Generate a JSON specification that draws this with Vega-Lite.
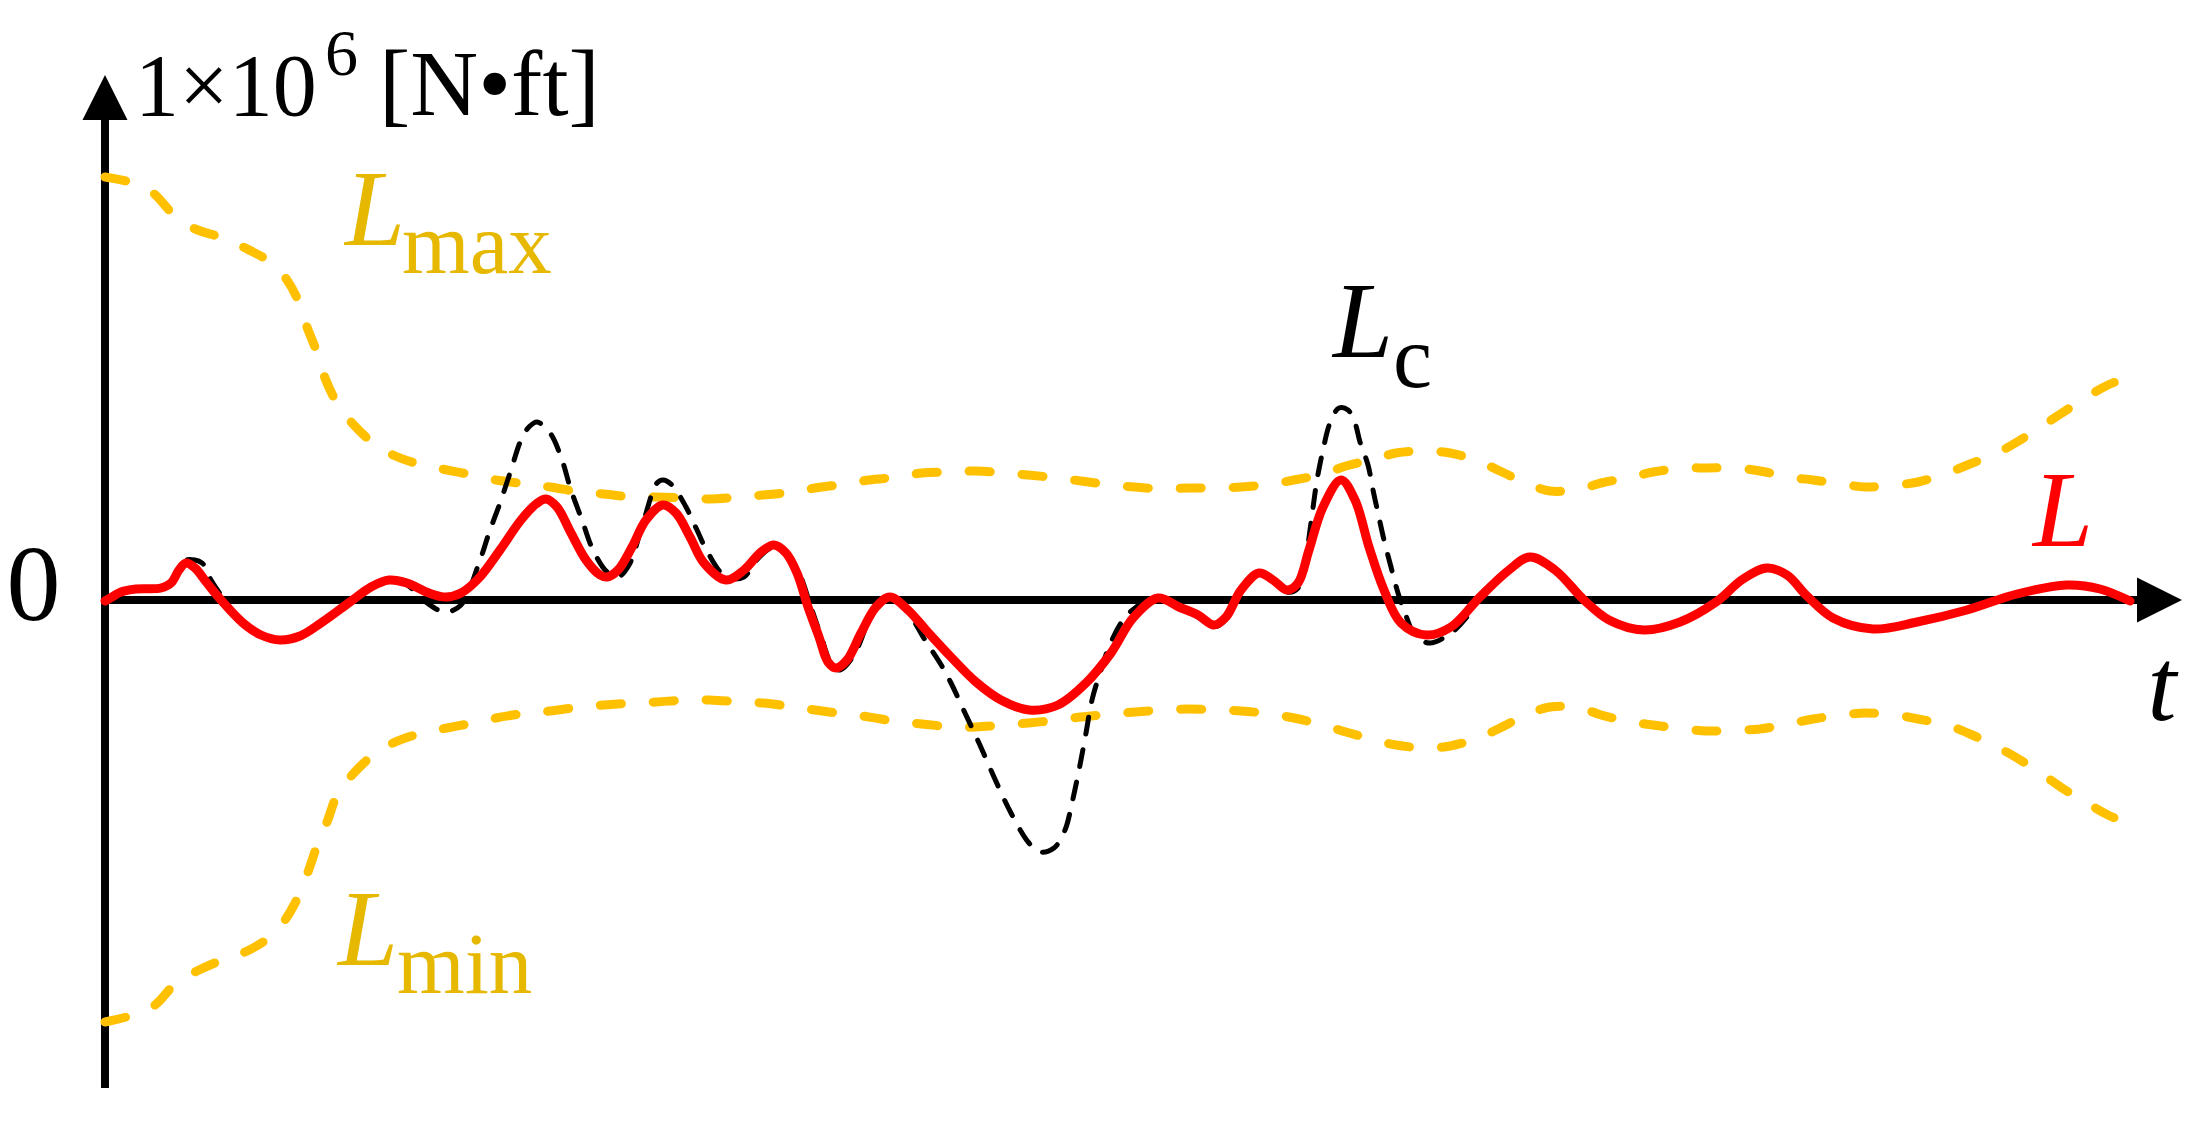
{
  "$schema": "https://vega.github.io/schema/vega-lite/v6.json",
  "width": 2202,
  "height": 1132,
  "autosize": {"type": "fit", "contains": "padding"},
  "padding": 0,
  "background": "white",
  "config": {"view": {"stroke": null}},
  "datasets": {
    "curves": [
      {"s":"Lmax","t":0,"v":4.23},{"s":"Lmax","t":0.28,"v":4.17},{"s":"Lmax","t":0.48,"v":4.07},{"s":"Lmax","t":0.68,"v":3.86},{"s":"Lmax","t":0.88,"v":3.72},{"s":"Lmax","t":1.18,"v":3.62},{"s":"Lmax","t":1.38,"v":3.53},{"s":"Lmax","t":1.65,"v":3.38},{"s":"Lmax","t":1.82,"v":3.2},{"s":"Lmax","t":1.95,"v":2.95},{"s":"Lmax","t":2.02,"v":2.73},{"s":"Lmax","t":2.13,"v":2.45},{"s":"Lmax","t":2.2,"v":2.22},{"s":"Lmax","t":2.33,"v":1.95},{"s":"Lmax","t":2.47,"v":1.77},{"s":"Lmax","t":2.68,"v":1.57},{"s":"Lmax","t":2.88,"v":1.45},{"s":"Lmax","t":3.17,"v":1.35},{"s":"Lmax","t":3.42,"v":1.3},{"s":"Lmax","t":3.68,"v":1.25},{"s":"Lmax","t":3.91,"v":1.2},{"s":"Lmax","t":4.22,"v":1.16},{"s":"Lmax","t":4.45,"v":1.13},{"s":"Lmax","t":4.75,"v":1.08},{"s":"Lmax","t":4.99,"v":1.06},{"s":"Lmax","t":5.27,"v":1.03},{"s":"Lmax","t":5.51,"v":1.03},{"s":"Lmax","t":5.81,"v":1.02},{"s":"Lmax","t":6.05,"v":1.01},{"s":"Lmax","t":6.35,"v":1.03},{"s":"Lmax","t":6.58,"v":1.05},{"s":"Lmax","t":6.89,"v":1.08},{"s":"Lmax","t":7.1,"v":1.12},{"s":"Lmax","t":7.4,"v":1.16},{"s":"Lmax","t":7.64,"v":1.2},{"s":"Lmax","t":7.94,"v":1.23},{"s":"Lmax","t":8.17,"v":1.27},{"s":"Lmax","t":8.48,"v":1.28},{"s":"Lmax","t":8.71,"v":1.29},{"s":"Lmax","t":8.99,"v":1.27},{"s":"Lmax","t":9.23,"v":1.25},{"s":"Lmax","t":9.53,"v":1.22},{"s":"Lmax","t":9.76,"v":1.19},{"s":"Lmax","t":10.06,"v":1.15},{"s":"Lmax","t":10.3,"v":1.13},{"s":"Lmax","t":10.58,"v":1.11},{"s":"Lmax","t":10.83,"v":1.12},{"s":"Lmax","t":11.13,"v":1.12},{"s":"Lmax","t":11.36,"v":1.13},{"s":"Lmax","t":11.66,"v":1.16},{"s":"Lmax","t":11.89,"v":1.2},{"s":"Lmax","t":12.18,"v":1.26},{"s":"Lmax","t":12.41,"v":1.34},{"s":"Lmax","t":12.7,"v":1.41},{"s":"Lmax","t":12.91,"v":1.47},{"s":"Lmax","t":13.21,"v":1.49},{"s":"Lmax","t":13.45,"v":1.47},{"s":"Lmax","t":13.73,"v":1.39},{"s":"Lmax","t":13.95,"v":1.29},{"s":"Lmax","t":14.21,"v":1.17},{"s":"Lmax","t":14.45,"v":1.09},{"s":"Lmax","t":14.75,"v":1.11},{"s":"Lmax","t":14.96,"v":1.17},{"s":"Lmax","t":15.27,"v":1.23},{"s":"Lmax","t":15.48,"v":1.28},{"s":"Lmax","t":15.79,"v":1.32},{"s":"Lmax","t":16.02,"v":1.32},{"s":"Lmax","t":16.32,"v":1.32},{"s":"Lmax","t":16.55,"v":1.29},{"s":"Lmax","t":16.83,"v":1.23},{"s":"Lmax","t":17.08,"v":1.2},{"s":"Lmax","t":17.37,"v":1.16},{"s":"Lmax","t":17.6,"v":1.13},{"s":"Lmax","t":17.9,"v":1.15},{"s":"Lmax","t":18.13,"v":1.18},{"s":"Lmax","t":18.42,"v":1.27},{"s":"Lmax","t":18.65,"v":1.36},{"s":"Lmax","t":18.92,"v":1.47},{"s":"Lmax","t":19.12,"v":1.58},{"s":"Lmax","t":19.37,"v":1.74},{"s":"Lmax","t":19.57,"v":1.87},{"s":"Lmax","t":19.82,"v":2.03},{"s":"Lmax","t":20.03,"v":2.15},{"s":"Lmax","t":20.3,"v":2.25},

      {"s":"Lmin","t":0,"v":-4.22},{"s":"Lmin","t":0.28,"v":-4.15},{"s":"Lmin","t":0.5,"v":-4.05},{"s":"Lmin","t":0.7,"v":-3.84},{"s":"Lmin","t":0.9,"v":-3.72},{"s":"Lmin","t":1.17,"v":-3.6},{"s":"Lmin","t":1.4,"v":-3.52},{"s":"Lmin","t":1.65,"v":-3.37},{"s":"Lmin","t":1.8,"v":-3.2},{"s":"Lmin","t":1.95,"v":-2.93},{"s":"Lmin","t":2.03,"v":-2.72},{"s":"Lmin","t":2.13,"v":-2.43},{"s":"Lmin","t":2.22,"v":-2.22},{"s":"Lmin","t":2.33,"v":-1.93},{"s":"Lmin","t":2.47,"v":-1.75},{"s":"Lmin","t":2.68,"v":-1.55},{"s":"Lmin","t":2.88,"v":-1.43},{"s":"Lmin","t":3.17,"v":-1.33},{"s":"Lmin","t":3.42,"v":-1.28},{"s":"Lmin","t":3.68,"v":-1.23},{"s":"Lmin","t":3.91,"v":-1.18},{"s":"Lmin","t":4.22,"v":-1.13},{"s":"Lmin","t":4.45,"v":-1.11},{"s":"Lmin","t":4.75,"v":-1.07},{"s":"Lmin","t":4.99,"v":-1.05},{"s":"Lmin","t":5.27,"v":-1.03},{"s":"Lmin","t":5.51,"v":-1.02},{"s":"Lmin","t":5.81,"v":-1.0},{"s":"Lmin","t":6.05,"v":-1.0},{"s":"Lmin","t":6.35,"v":-1.02},{"s":"Lmin","t":6.58,"v":-1.03},{"s":"Lmin","t":6.89,"v":-1.07},{"s":"Lmin","t":7.1,"v":-1.1},{"s":"Lmin","t":7.4,"v":-1.14},{"s":"Lmin","t":7.64,"v":-1.17},{"s":"Lmin","t":7.94,"v":-1.22},{"s":"Lmin","t":8.17,"v":-1.24},{"s":"Lmin","t":8.48,"v":-1.27},{"s":"Lmin","t":8.71,"v":-1.27},{"s":"Lmin","t":8.99,"v":-1.25},{"s":"Lmin","t":9.23,"v":-1.23},{"s":"Lmin","t":9.53,"v":-1.2},{"s":"Lmin","t":9.76,"v":-1.17},{"s":"Lmin","t":10.06,"v":-1.14},{"s":"Lmin","t":10.3,"v":-1.12},{"s":"Lmin","t":10.58,"v":-1.1},{"s":"Lmin","t":10.83,"v":-1.09},{"s":"Lmin","t":11.13,"v":-1.1},{"s":"Lmin","t":11.36,"v":-1.11},{"s":"Lmin","t":11.66,"v":-1.14},{"s":"Lmin","t":11.89,"v":-1.18},{"s":"Lmin","t":12.18,"v":-1.25},{"s":"Lmin","t":12.41,"v":-1.32},{"s":"Lmin","t":12.7,"v":-1.4},{"s":"Lmin","t":12.91,"v":-1.45},{"s":"Lmin","t":13.21,"v":-1.48},{"s":"Lmin","t":13.45,"v":-1.46},{"s":"Lmin","t":13.73,"v":-1.38},{"s":"Lmin","t":13.95,"v":-1.28},{"s":"Lmin","t":14.21,"v":-1.15},{"s":"Lmin","t":14.45,"v":-1.07},{"s":"Lmin","t":14.75,"v":-1.08},{"s":"Lmin","t":14.96,"v":-1.15},{"s":"Lmin","t":15.27,"v":-1.22},{"s":"Lmin","t":15.48,"v":-1.25},{"s":"Lmin","t":15.79,"v":-1.29},{"s":"Lmin","t":16.02,"v":-1.31},{"s":"Lmin","t":16.32,"v":-1.3},{"s":"Lmin","t":16.55,"v":-1.29},{"s":"Lmin","t":16.83,"v":-1.24},{"s":"Lmin","t":17.08,"v":-1.19},{"s":"Lmin","t":17.37,"v":-1.15},{"s":"Lmin","t":17.6,"v":-1.13},{"s":"Lmin","t":17.9,"v":-1.15},{"s":"Lmin","t":18.13,"v":-1.19},{"s":"Lmin","t":18.42,"v":-1.25},{"s":"Lmin","t":18.65,"v":-1.34},{"s":"Lmin","t":18.92,"v":-1.47},{"s":"Lmin","t":19.12,"v":-1.58},{"s":"Lmin","t":19.37,"v":-1.74},{"s":"Lmin","t":19.57,"v":-1.88},{"s":"Lmin","t":19.82,"v":-2.03},{"s":"Lmin","t":20.03,"v":-2.15},{"s":"Lmin","t":20.3,"v":-2.26},

      {"s":"Lc","t":0,"v":-0.01},{"s":"Lc","t":0.07,"v":0.03},{"s":"Lc","t":0.16,"v":0.08},{"s":"Lc","t":0.31,"v":0.11},{"s":"Lc","t":0.56,"v":0.12},{"s":"Lc","t":0.66,"v":0.18},{"s":"Lc","t":0.74,"v":0.33},{"s":"Lc","t":0.81,"v":0.4},{"s":"Lc","t":0.97,"v":0.37},{"s":"Lc","t":1.06,"v":0.2},{"s":"Lc","t":1.16,"v":0.05},{"s":"Lc","t":1.38,"v":-0.23},{"s":"Lc","t":1.56,"v":-0.35},{"s":"Lc","t":1.75,"v":-0.4},{"s":"Lc","t":1.95,"v":-0.36},{"s":"Lc","t":2.16,"v":-0.23},{"s":"Lc","t":2.45,"v":-0.02},{"s":"Lc","t":2.66,"v":0.13},{"s":"Lc","t":2.84,"v":0.2},{"s":"Lc","t":3.02,"v":0.15},{"s":"Lc","t":3.22,"v":-0.03},{"s":"Lc","t":3.4,"v":-0.12},{"s":"Lc","t":3.56,"v":-0.05},{"s":"Lc","t":3.74,"v":0.37},{"s":"Lc","t":3.84,"v":0.67},{"s":"Lc","t":3.95,"v":0.97},{"s":"Lc","t":4.06,"v":1.3},{"s":"Lc","t":4.16,"v":1.6},{"s":"Lc","t":4.24,"v":1.73},{"s":"Lc","t":4.32,"v":1.78},{"s":"Lc","t":4.45,"v":1.67},{"s":"Lc","t":4.56,"v":1.43},{"s":"Lc","t":4.66,"v":1.1},{"s":"Lc","t":4.77,"v":0.8},{"s":"Lc","t":4.88,"v":0.5},{"s":"Lc","t":5.02,"v":0.28},{"s":"Lc","t":5.13,"v":0.23},{"s":"Lc","t":5.24,"v":0.35},{"s":"Lc","t":5.38,"v":0.77},{"s":"Lc","t":5.52,"v":1.17},{"s":"Lc","t":5.58,"v":1.2},{"s":"Lc","t":5.67,"v":1.15},{"s":"Lc","t":5.81,"v":0.93},{"s":"Lc","t":5.92,"v":0.7},{"s":"Lc","t":6.03,"v":0.47},{"s":"Lc","t":6.21,"v":0.23},{"s":"Lc","t":6.39,"v":0.23},{"s":"Lc","t":6.49,"v":0.37},{"s":"Lc","t":6.67,"v":0.52},{"s":"Lc","t":6.82,"v":0.45},{"s":"Lc","t":6.94,"v":0.27},{"s":"Lc","t":7.06,"v":-0.07},{"s":"Lc","t":7.15,"v":-0.33},{"s":"Lc","t":7.28,"v":-0.67},{"s":"Lc","t":7.35,"v":-0.7},{"s":"Lc","t":7.49,"v":-0.55},{"s":"Lc","t":7.62,"v":-0.25},{"s":"Lc","t":7.74,"v":-0.02},{"s":"Lc","t":7.87,"v":0.03},{"s":"Lc","t":8.06,"v":-0.17},{"s":"Lc","t":8.2,"v":-0.4},{"s":"Lc","t":8.35,"v":-0.63},{"s":"Lc","t":8.46,"v":-0.83},{"s":"Lc","t":8.6,"v":-1.13},{"s":"Lc","t":8.74,"v":-1.43},{"s":"Lc","t":8.89,"v":-1.77},{"s":"Lc","t":9.06,"v":-2.13},{"s":"Lc","t":9.24,"v":-2.43},{"s":"Lc","t":9.35,"v":-2.52},{"s":"Lc","t":9.49,"v":-2.48},{"s":"Lc","t":9.6,"v":-2.3},{"s":"Lc","t":9.67,"v":-2.03},{"s":"Lc","t":9.74,"v":-1.7},{"s":"Lc","t":9.81,"v":-1.33},{"s":"Lc","t":9.87,"v":-1.0},{"s":"Lc","t":9.96,"v":-0.7},{"s":"Lc","t":10.06,"v":-0.42},{"s":"Lc","t":10.24,"v":-0.13},{"s":"Lc","t":10.53,"v":0.03},{"s":"Lc","t":10.74,"v":-0.07},{"s":"Lc","t":10.93,"v":-0.17},{"s":"Lc","t":11.09,"v":-0.27},{"s":"Lc","t":11.21,"v":-0.19},{"s":"Lc","t":11.36,"v":0.08},{"s":"Lc","t":11.54,"v":0.27},{"s":"Lc","t":11.68,"v":0.2},{"s":"Lc","t":11.82,"v":0.08},{"s":"Lc","t":11.93,"v":0.12},{"s":"Lc","t":12.02,"v":0.5},{"s":"Lc","t":12.07,"v":0.85},{"s":"Lc","t":12.12,"v":1.2},{"s":"Lc","t":12.18,"v":1.5},{"s":"Lc","t":12.25,"v":1.77},{"s":"Lc","t":12.34,"v":1.92},{"s":"Lc","t":12.43,"v":1.9},{"s":"Lc","t":12.5,"v":1.77},{"s":"Lc","t":12.55,"v":1.58},{"s":"Lc","t":12.63,"v":1.35},{"s":"Lc","t":12.68,"v":1.1},{"s":"Lc","t":12.73,"v":0.87},{"s":"Lc","t":12.79,"v":0.6},{"s":"Lc","t":12.86,"v":0.33},{"s":"Lc","t":12.93,"v":0.07},{"s":"Lc","t":13.0,"v":-0.13},{"s":"Lc","t":13.11,"v":-0.37},{"s":"Lc","t":13.25,"v":-0.43},{"s":"Lc","t":13.46,"v":-0.33},{"s":"Lc","t":13.61,"v":-0.18},{"s":"Lc","t":13.75,"v":0.03},{"s":"Lc","t":14.04,"v":0.3},{"s":"Lc","t":14.25,"v":0.43},{"s":"Lc","t":14.5,"v":0.3},{"s":"Lc","t":14.79,"v":0.0},{"s":"Lc","t":15.04,"v":-0.2},{"s":"Lc","t":15.39,"v":-0.3},{"s":"Lc","t":15.75,"v":-0.22},{"s":"Lc","t":16.11,"v":-0.02},{"s":"Lc","t":16.38,"v":0.21},{"s":"Lc","t":16.62,"v":0.32},{"s":"Lc","t":16.82,"v":0.25},{"s":"Lc","t":17.02,"v":0.04},{"s":"Lc","t":17.28,"v":-0.18},{"s":"Lc","t":17.68,"v":-0.29},{"s":"Lc","t":18.12,"v":-0.22},{"s":"Lc","t":18.62,"v":-0.1},{"s":"Lc","t":19.12,"v":0.06},{"s":"Lc","t":19.62,"v":0.15},{"s":"Lc","t":19.95,"v":0.11},{"s":"Lc","t":20.25,"v":-0.01},

      {"s":"L","t":0,"v":-0.01},{"s":"L","t":0.07,"v":0.03},{"s":"L","t":0.16,"v":0.08},{"s":"L","t":0.31,"v":0.11},{"s":"L","t":0.56,"v":0.12},{"s":"L","t":0.66,"v":0.17},{"s":"L","t":0.74,"v":0.3},{"s":"L","t":0.81,"v":0.37},{"s":"L","t":0.9,"v":0.32},{"s":"L","t":1.02,"v":0.17},{"s":"L","t":1.16,"v":0.0},{"s":"L","t":1.38,"v":-0.23},{"s":"L","t":1.56,"v":-0.35},{"s":"L","t":1.75,"v":-0.4},{"s":"L","t":1.95,"v":-0.36},{"s":"L","t":2.16,"v":-0.23},{"s":"L","t":2.45,"v":-0.02},{"s":"L","t":2.66,"v":0.13},{"s":"L","t":2.84,"v":0.2},{"s":"L","t":3.02,"v":0.17},{"s":"L","t":3.24,"v":0.07},{"s":"L","t":3.41,"v":0.03},{"s":"L","t":3.56,"v":0.07},{"s":"L","t":3.74,"v":0.22},{"s":"L","t":3.95,"v":0.5},{"s":"L","t":4.16,"v":0.8},{"s":"L","t":4.31,"v":0.96},{"s":"L","t":4.41,"v":1.01},{"s":"L","t":4.52,"v":0.93},{"s":"L","t":4.66,"v":0.67},{"s":"L","t":4.81,"v":0.4},{"s":"L","t":4.95,"v":0.25},{"s":"L","t":5.02,"v":0.23},{"s":"L","t":5.13,"v":0.3},{"s":"L","t":5.27,"v":0.53},{"s":"L","t":5.41,"v":0.8},{"s":"L","t":5.58,"v":0.95},{"s":"L","t":5.71,"v":0.87},{"s":"L","t":5.85,"v":0.63},{"s":"L","t":5.99,"v":0.37},{"s":"L","t":6.21,"v":0.2},{"s":"L","t":6.39,"v":0.3},{"s":"L","t":6.56,"v":0.48},{"s":"L","t":6.69,"v":0.55},{"s":"L","t":6.81,"v":0.47},{"s":"L","t":6.92,"v":0.27},{"s":"L","t":7.03,"v":-0.07},{"s":"L","t":7.14,"v":-0.37},{"s":"L","t":7.23,"v":-0.62},{"s":"L","t":7.31,"v":-0.68},{"s":"L","t":7.42,"v":-0.6},{"s":"L","t":7.56,"v":-0.33},{"s":"L","t":7.71,"v":-0.07},{"s":"L","t":7.85,"v":0.03},{"s":"L","t":8.03,"v":-0.1},{"s":"L","t":8.21,"v":-0.3},{"s":"L","t":8.46,"v":-0.57},{"s":"L","t":8.71,"v":-0.82},{"s":"L","t":8.96,"v":-1.0},{"s":"L","t":9.24,"v":-1.1},{"s":"L","t":9.53,"v":-1.05},{"s":"L","t":9.81,"v":-0.83},{"s":"L","t":10.06,"v":-0.53},{"s":"L","t":10.28,"v":-0.18},{"s":"L","t":10.53,"v":0.02},{"s":"L","t":10.74,"v":-0.07},{"s":"L","t":10.93,"v":-0.15},{"s":"L","t":11.09,"v":-0.25},{"s":"L","t":11.21,"v":-0.17},{"s":"L","t":11.36,"v":0.1},{"s":"L","t":11.54,"v":0.27},{"s":"L","t":11.68,"v":0.2},{"s":"L","t":11.82,"v":0.1},{"s":"L","t":11.93,"v":0.17},{"s":"L","t":12.04,"v":0.5},{"s":"L","t":12.18,"v":0.93},{"s":"L","t":12.36,"v":1.2},{"s":"L","t":12.5,"v":1.0},{"s":"L","t":12.64,"v":0.53},{"s":"L","t":12.79,"v":0.1},{"s":"L","t":12.96,"v":-0.23},{"s":"L","t":13.21,"v":-0.35},{"s":"L","t":13.46,"v":-0.27},{"s":"L","t":13.75,"v":0.03},{"s":"L","t":14.04,"v":0.3},{"s":"L","t":14.25,"v":0.43},{"s":"L","t":14.5,"v":0.3},{"s":"L","t":14.79,"v":0.0},{"s":"L","t":15.04,"v":-0.2},{"s":"L","t":15.39,"v":-0.3},{"s":"L","t":15.75,"v":-0.22},{"s":"L","t":16.11,"v":-0.02},{"s":"L","t":16.38,"v":0.21},{"s":"L","t":16.62,"v":0.32},{"s":"L","t":16.82,"v":0.25},{"s":"L","t":17.02,"v":0.04},{"s":"L","t":17.28,"v":-0.18},{"s":"L","t":17.68,"v":-0.29},{"s":"L","t":18.12,"v":-0.22},{"s":"L","t":18.62,"v":-0.1},{"s":"L","t":19.12,"v":0.06},{"s":"L","t":19.62,"v":0.15},{"s":"L","t":19.95,"v":0.11},{"s":"L","t":20.25,"v":-0.01}
    ]
  },
  "encoding": {
    "x": {"field": "t", "type": "quantitative", "scale": {"domain": [-1.05, 20.97], "nice": false, "zero": false}, "axis": null},
    "y": {"field": "v", "type": "quantitative", "scale": {"domain": [-5.32, 6.0], "nice": false, "zero": false}, "axis": null}
  },
  "layer": [
    {
      "data": {"values": [{"t": 0, "v": -4.88, "t2": 0, "v2": 4.85}, {"t": 0, "v": 0, "t2": 20.35, "v2": 0}]},
      "mark": {"type": "rule", "color": "black", "strokeWidth": 8, "strokeCap": "butt"},
      "encoding": {"x2": {"field": "t2"}, "y2": {"field": "v2"}}
    },
    {
      "data": {"values": [{"t": 0, "v": 5.025}]},
      "mark": {"type": "point", "shape": "M0,-1L1,1L-1,1Z", "size": 2025, "filled": true, "color": "black", "opacity": 1, "strokeWidth": 0}
    },
    {
      "data": {"values": [{"t": 20.545, "v": 0}]},
      "mark": {"type": "point", "shape": "M1,0L-1,1L-1,-1Z", "size": 2025, "filled": true, "color": "black", "opacity": 1, "strokeWidth": 0}
    },
    {
      "data": {"name": "curves"},
      "transform": [{"filter": "datum.s === 'Lmax' || datum.s === 'Lmin'"}],
      "mark": {"type": "line", "color": "#FFC000", "strokeWidth": 9, "strokeDash": [21, 32], "strokeCap": "round", "interpolate": "catmull-rom"},
      "encoding": {"detail": {"field": "s"}}
    },
    {
      "data": {"name": "curves"},
      "transform": [{"filter": "datum.s === 'Lc'"}],
      "mark": {"type": "line", "color": "black", "strokeWidth": 5, "strokeDash": [17, 16], "strokeCap": "round", "interpolate": "catmull-rom"},
      "encoding": {}
    },
    {
      "data": {"name": "curves"},
      "transform": [{"filter": "datum.s === 'L'"}],
      "mark": {"type": "line", "color": "#FF0000", "strokeWidth": 9, "strokeCap": "round", "strokeJoin": "round", "interpolate": "catmull-rom"},
      "encoding": {}
    },
    {
      "data": {"values": [{"t": 0.3, "v": 4.85, "txt": "1×10"}, {"t": 12.88, "v": 2.13, "txt": "c"}]},
      "mark": {"type": "text", "font": "Liberation Serif", "fontSize": 88, "color": "black", "align": "left", "baseline": "alphabetic"},
      "encoding": {"text": {"field": "txt"}}
    },
    {
      "data": {"values": [{"t": 2.74, "v": 4.85, "txt": "[N•ft]"}]},
      "mark": {"type": "text", "font": "Liberation Serif", "fontSize": 94, "color": "black", "align": "left", "baseline": "alphabetic"},
      "encoding": {"text": {"field": "txt"}}
    },
    {
      "data": {"values": [{"t": 2.2, "v": 5.25, "txt": "6"}]},
      "mark": {"type": "text", "font": "Liberation Serif", "fontSize": 66, "color": "black", "align": "left", "baseline": "alphabetic"},
      "encoding": {"text": {"field": "txt"}}
    },
    {
      "data": {"values": [{"t": -0.715, "v": -0.2, "txt": "0"}]},
      "mark": {"type": "text", "font": "Liberation Serif", "fontSize": 108, "color": "black", "align": "center", "baseline": "alphabetic"},
      "encoding": {"text": {"field": "txt"}}
    },
    {
      "data": {"values": [{"t": 20.57, "v": -1.2, "txt": "t"}]},
      "mark": {"type": "text", "font": "Liberation Serif", "fontStyle": "italic", "fontSize": 104, "color": "black", "align": "center", "baseline": "alphabetic"},
      "encoding": {"text": {"field": "txt"}}
    },
    {
      "data": {"values": [{"t": 12.28, "v": 2.43, "txt": "L"}]},
      "mark": {"type": "text", "font": "Liberation Serif", "fontStyle": "italic", "fontSize": 108, "color": "black", "align": "left", "baseline": "alphabetic"},
      "encoding": {"text": {"field": "txt"}}
    },
    {
      "data": {"values": [{"t": 19.28, "v": 0.54, "txt": "L"}]},
      "mark": {"type": "text", "font": "Liberation Serif", "fontStyle": "italic", "fontSize": 108, "color": "#FF0000", "align": "left", "baseline": "alphabetic"},
      "encoding": {"text": {"field": "txt"}}
    },
    {
      "data": {"values": [{"t": 2.4, "v": 3.55, "txt": "L"}, {"t": 2.33, "v": -3.65, "txt": "L"}]},
      "mark": {"type": "text", "font": "Liberation Serif", "fontStyle": "italic", "fontSize": 108, "color": "#E6B800", "align": "left", "baseline": "alphabetic"},
      "encoding": {"text": {"field": "txt"}}
    },
    {
      "data": {"values": [{"t": 2.97, "v": 3.27, "txt": "max"}, {"t": 2.92, "v": -3.93, "txt": "min"}]},
      "mark": {"type": "text", "font": "Liberation Serif", "fontSize": 87, "color": "#E6B800", "align": "left", "baseline": "alphabetic"},
      "encoding": {"text": {"field": "txt"}}
    }
  ]
}
